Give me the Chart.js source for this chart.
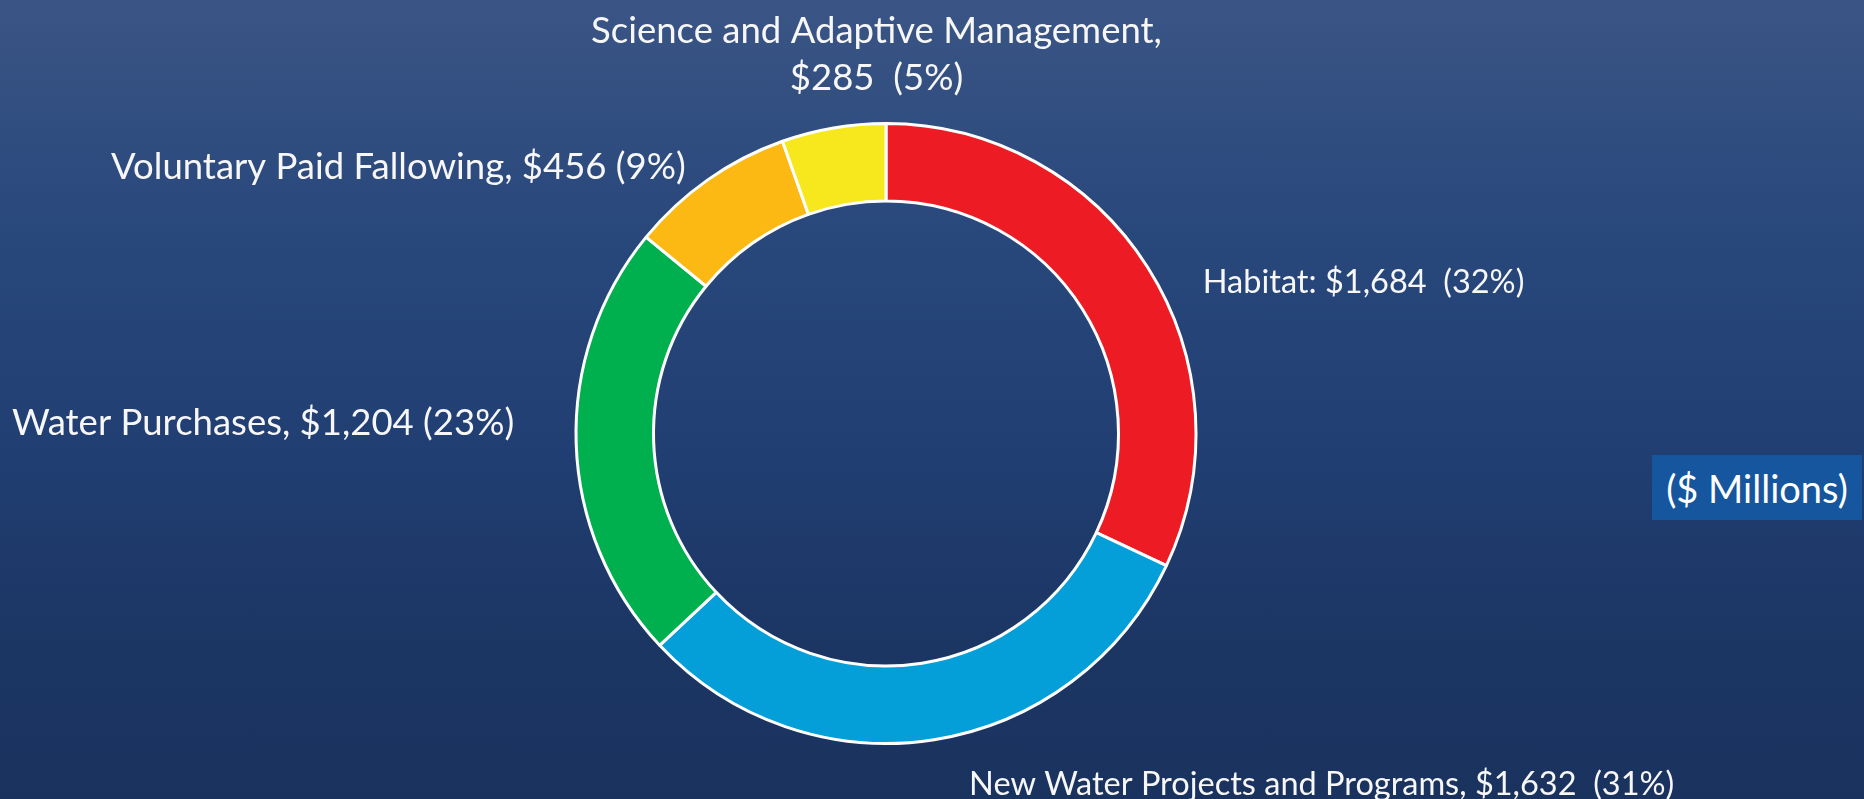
<!DOCTYPE html>
<html>
<head>
<meta charset="utf-8">
<title>Funding allocation</title>
<script src="https://cdn.jsdelivr.net/npm/chart.js@4.4.1/dist/chart.umd.min.js"></script>
<style>
  html, body { margin: 0; padding: 0; }
  body {
    width: 1864px; height: 799px; overflow: hidden; position: relative;
    background: linear-gradient(to bottom, #3a5585 0%, #28477b 30%, #213f73 55%, #1c3664 80%, #1a325e 100%);
    font-family: Lato, "Open Sans", sans-serif;
  }
  #chart { position: absolute; left: 0; top: 0; }
  .units {
    position: absolute; left: 1652px; top: 455px; width: 210px; height: 65px;
    background: #15569e; color: #fff; font-size: 38px;
    display: flex; align-items: center; justify-content: center;
  }
</style>
</head>
<body>
<canvas id="chart" width="1864" height="799"></canvas>
<div class="units">($ Millions)</div>
<script>
// ── Data ($ millions) ──
const categories = ["Habitat", "New Water Projects and Programs", "Water Purchases",
                    "Voluntary Paid Fallowing", "Science and Adaptive Management"];
const amounts    = [1684, 1632, 1204, 456, 285];
const labelLines = [
  ["Habitat: $1,684  (32%)"],
  ["New Water Projects and Programs, $1,632  (31%)"],
  ["Water Purchases, $1,204 (23%)"],
  ["Voluntary Paid Fallowing, $456 (9%)"],
  ["Science and Adaptive Management,", "$285  (5%)"],
];
const sliceColors = ["#ed1c24", "#049fd9", "#00b04f", "#fdb913", "#f6e81c"];

// where each label sits, relative to the outer edge at the slice's middle
const labelLayout = [
  { dx: 55,  dy: 15,  align: "left",   size: 32.5 },
  { dx: 35,  dy: 45,  align: "left",   size: 32.5 },
  { dx: -62, dy: -21, align: "right",  size: 36.5 },
  { dx: -22, dy: -13, align: "right",  size: 36.5 },
  { dx: 43,  dy: -97, align: "center", size: 36.5, gap: 47 },
];

// ── Slice labels ──
const sliceLabels = {
  id: "sliceLabels",
  afterDatasetsDraw(chart) {
    const ctx  = chart.ctx;
    const meta = chart.getDatasetMeta(0);
    ctx.save();
    ctx.fillStyle = "#f7f7f7";
    ctx.textBaseline = "middle";
    meta.data.forEach((arc, i) => {
      const p   = arc.getProps(["x", "y", "startAngle", "endAngle", "outerRadius"], true);
      const mid = (p.startAngle + p.endAngle) / 2;
      const ax  = p.x + Math.cos(mid) * p.outerRadius;
      const ay  = p.y + Math.sin(mid) * p.outerRadius;
      const l   = labelLayout[i];
      ctx.font = `${l.size}px Lato`;
      ctx.textAlign = l.align;
      labelLines[i].forEach((line, j) => {
        ctx.fillText(line, ax + l.dx, ay + l.dy + j * (l.gap || 0));
      });
    });
    ctx.restore();
  },
};

new Chart(document.getElementById("chart").getContext("2d"), {
  type: "doughnut",
  data: {
    labels: categories,
    datasets: [{
      data: amounts,
      backgroundColor: sliceColors,
      borderColor: "#ffffff",
      borderWidth: 3,
      hoverOffset: 0,
    }],
  },
  options: {
    responsive: false,
    animation: false,
    devicePixelRatio: 1,
    cutout: "75%",
    layout: { padding: { top: 122, bottom: 54, left: 0, right: 92 } },
    plugins: { legend: { display: false }, tooltip: { enabled: false } },
  },
  plugins: [sliceLabels],
});
</script>
</body>
</html>
